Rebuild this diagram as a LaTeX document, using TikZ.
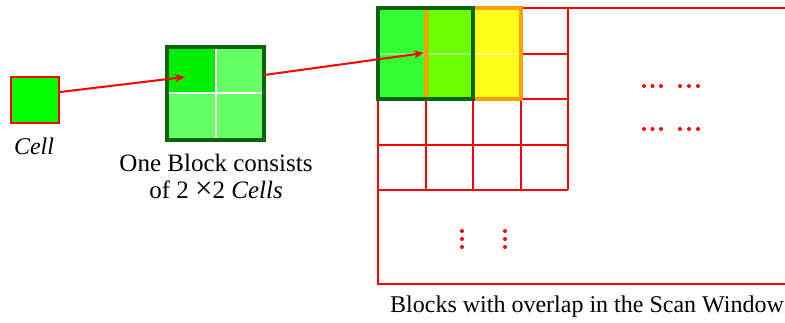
\documentclass[tikz,border=0pt]{standalone}
\usepackage{fontspec}
\setmainfont{Liberation Serif}
\usetikzlibrary{arrows.meta}
\definecolor{cellgreen}{HTML}{00FF00}
\definecolor{tlgreen}{HTML}{00EE00}
\definecolor{lightgreen}{HTML}{66FF66}
\definecolor{darkgreen}{HTML}{0A640A}
\definecolor{ovgreen}{HTML}{33FF33}
\definecolor{ovmix}{HTML}{6CFF00}
\definecolor{ovyellow}{HTML}{FFFF1A}
\definecolor{ovorange}{HTML}{FFA000}
\definecolor{olive}{HTML}{99CC00}
\tikzset{
  redline/.style={draw=red, line width=2.8pt},
  arr/.style={draw=red, line width=2pt, -{Stealth[length=10pt,width=8pt]}},
  lbl/.style={font=\fontsize{24}{29}\selectfont, align=center, inner sep=0pt},
  rdot/.style={fill=red, circle, inner sep=0pt, minimum size=4pt},
}
\begin{document}
\begin{tikzpicture}[x=1pt,y=-1pt]
\useasboundingbox (0,0) rectangle (785,322);
\begin{scope}
\clip (0,0) rectangle (785,322);
% cell
\node[draw=red, line width=2pt, fill=cellgreen, minimum width=48pt, minimum height=46pt, inner sep=0pt] (cell) at (35,100) {};
\node[lbl] (celllbl) at (34,146) {\textit{Cell}};
% block
\node[fill=lightgreen, minimum width=97pt, minimum height=93pt, inner sep=0pt] (block) at (215.5,93.5) {};
\fill[tlgreen] (block.north west) rectangle (216,93);
\draw[white, line width=2.5pt] (216,47) -- (216,140) (167,93) -- (264,93);
\draw[darkgreen, line width=4pt] (block.north west) rectangle (block.south east);
\coordinate (tipA) at (185,77);
\node[lbl, font=\fontsize{25}{27}\selectfont] (blocklbl) at (216,176) {One Block consists\\of 2 {\fontsize{31}{27}\selectfont ×}2 \textit{Cells}};
% window outline
\draw[redline] (790,8) -- (378,8) -- (378,284) -- (790,284);
% grid
\foreach \x in {426,473,521,568} \draw[redline] (\x,8) -- (\x,190);
\foreach \y in {54,99,145,190} \draw[redline] (378,\y) -- (568,\y);
% overlapping blocks
\fill[ovgreen] (378,8) rectangle (426,99);
\fill[ovmix] (426,8) rectangle (473,99);
\fill[ovyellow] (473,8) rectangle (521,99);
\draw[white, opacity=0.4, line width=2.5pt] (378,54) -- (521,54);
\draw[white, opacity=0.5, line width=1pt] (424.5,8) -- (424.5,99);
\draw[olive, line width=3pt] (427,8) -- (427,99);
\draw[ovorange, line width=3.5pt] (426,8) rectangle (521,99);
\node[draw=darkgreen, line width=4pt, minimum width=95pt, minimum height=91pt, inner sep=0pt] (winblock) at (425.5,53.5) {};
\coordinate (tipB) at (424,53);
\node[lbl] (winlbl) at (587,307) {Blocks with overlap in the Scan Window};
% dots
\foreach \x in {644,652.5,661,680,689,698}{
  \node[rdot] at (\x,86) {};
  \node[rdot] at (\x,129) {};
}
\foreach \x in {462,505}{
  \foreach \y in {231,239,247} \node[rdot] at (\x,\y) {};
}
% arrows
\draw[arr] (cell.east |- 0,92) -- (tipA);
\draw[arr] (block.east |- 0,75) -- (tipB);
\end{scope}
\end{tikzpicture}
\end{document}
